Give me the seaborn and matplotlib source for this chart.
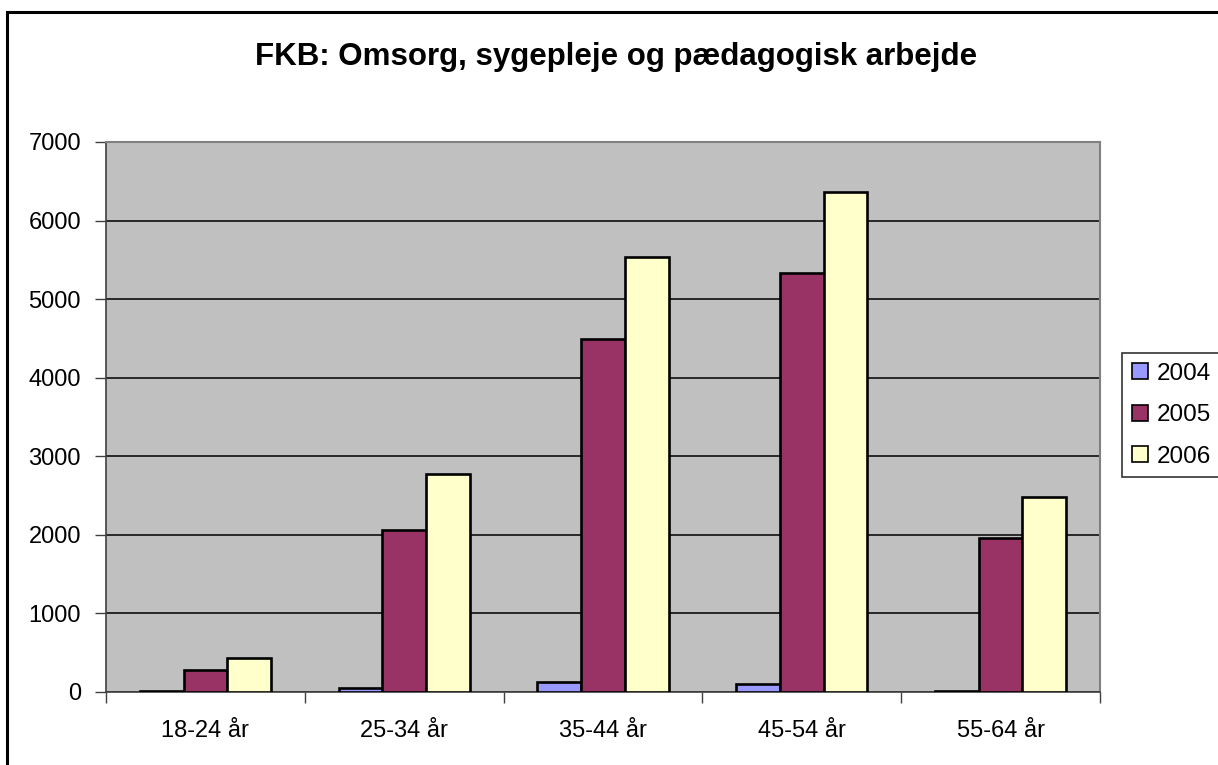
import matplotlib
matplotlib.use("Agg")
import matplotlib.pyplot as plt
import seaborn as sns
import pandas as pd
from matplotlib.patches import Rectangle, Patch

categories = ["18-24 år", "25-34 år", "35-44 år", "45-54 år", "55-64 år"]
years = ["2004", "2005", "2006"]
v2004 = [15, 55, 130, 105, 18]
v2005 = [285, 2060, 4490, 5330, 1955]
v2006 = [435, 2775, 5530, 6360, 2480]
colors = {"2004": "#9999FF", "2005": "#993366", "2006": "#FFFFCC"}
title = "FKB: Omsorg, sygepleje og pædagogisk arbejde"

rows = []
for y, vals in zip(years, [v2004, v2005, v2006]):
    for c, v in zip(categories, vals):
        rows.append({"cat": c, "year": y, "val": v})
df = pd.DataFrame(rows)

sns.set_theme(style="white")
plt.rcParams["font.family"] = ["Liberation Sans", "DejaVu Sans"]
plt.rcParams["text.color"] = "black"
plt.rcParams["xtick.color"] = "black"
plt.rcParams["ytick.color"] = "black"

W, H = 1218, 765
fig = plt.figure(figsize=(W / 100, H / 100), dpi=100)
fig.patch.set_facecolor("white")
ax = fig.add_axes([106 / W, 1 - 692 / H, (1100 - 106) / W, (692 - 142) / H])
ax.set_facecolor("#C0C0C0")

sns.barplot(data=df, x="cat", y="val", hue="year", order=categories, hue_order=years,
            palette=colors, width=0.66, gap=0, edgecolor="black", linewidth=1.9,
            saturation=1, legend=False, ax=ax, zorder=3)

ax.set_ylim(0, 7000)
ax.set_xlim(-0.5, len(categories) - 0.5)
ax.set_yticks(range(0, 7001, 1000))
ax.yaxis.grid(True, color="black", linewidth=1.1, zorder=1)
ax.set_axisbelow(True)
ax.tick_params(axis="y", labelsize=17, length=8, width=1, color="#404040",
               labelcolor="black", pad=10, left=True)

ax.set_xticks([i - 0.5 for i in range(len(categories) + 1)])
ax.set_xticklabels([""] * (len(categories) + 1))
ax.tick_params(axis="x", which="major", length=8, width=1, color="#404040", bottom=True)
ax.set_xticks(range(len(categories)), minor=True)
ax.set_xticklabels(categories, minor=True)
ax.tick_params(axis="x", which="minor", length=0, labelsize=17, labelcolor="black", pad=20)
ax.set_xlabel("")
ax.set_ylabel("")

for side in ["left", "bottom"]:
    ax.spines[side].set_color("#404040")
    ax.spines[side].set_linewidth(1.2)
for side in ["top", "right"]:
    ax.spines[side].set_color("#808080")
    ax.spines[side].set_linewidth(1.5)

fig.text(616 / W, 1 - 57 / H, title, ha="center", va="center",
         fontsize=22.5, fontweight="bold", color="black")

handles = [Patch(facecolor=colors[y], edgecolor="black", linewidth=1.2, label=y) for y in years]
leg = fig.legend(handles=handles, loc="upper left", bbox_to_anchor=(1122 / W, 1 - 353 / H),
                 fontsize=17.5, frameon=True, fancybox=False, handlelength=0.65,
                 handleheight=0.65, handletextpad=0.4, labelspacing=0.8,
                 borderpad=0.4, borderaxespad=0)
leg.get_frame().set_edgecolor("black")
leg.get_frame().set_linewidth(1.2)
for t in leg.get_texts():
    t.set_color("black")

fig.patches.append(Rectangle((7 / W, -0.1), 1.2, 1 - 12 / H + 0.1, transform=fig.transFigure,
                             fill=False, edgecolor="black", linewidth=2.2, zorder=10))

fig.savefig("out.png", dpi=100)
